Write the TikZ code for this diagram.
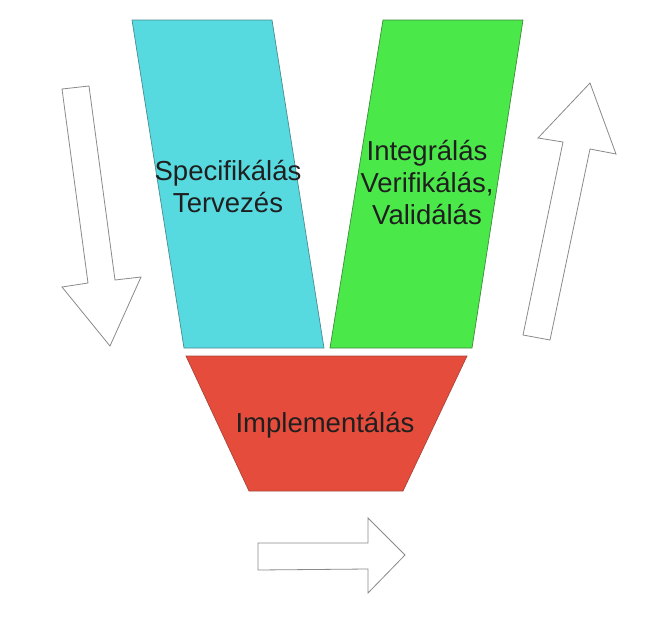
\documentclass[tikz,border=0pt]{standalone}
\usepackage{fontspec}
\setmainfont{Liberation Sans}
\definecolor{cyanfill}{HTML}{57D9E0}
\definecolor{cyanline}{HTML}{4A8C90}
\definecolor{greenfill}{HTML}{4BE84A}
\definecolor{greenline}{HTML}{3C8C3C}
\definecolor{redfill}{HTML}{E64C3C}
\definecolor{redline}{HTML}{A8463A}
\definecolor{arrowline}{HTML}{8A8A8A}
\tikzset{
  phase/.style={line width=0.7pt},
  bigarrow/.style={draw=arrowline, fill=white, line width=0.8pt, line join=miter},
  lbl/.style={font=\fontsize{27.5}{32}\selectfont, align=center, text=black!88, inner sep=0pt}
}
\begin{document}
\begin{tikzpicture}[x=1pt,y=-1pt]
\useasboundingbox (0,0) rectangle (664,624);
% phases
\filldraw[phase, fill=cyanfill, draw=cyanline] (132,20) -- (272,20) -- (324,348) -- (184,348) -- cycle;
\filldraw[phase, fill=greenfill, draw=greenline] (383,20) -- (523,20) -- (472,348) -- (330,348) -- cycle;
\filldraw[phase, fill=redfill, draw=redline] (186,356) -- (467,356) -- (403,491) -- (249,491) -- cycle;
% labels
\node[lbl] (spec) at (228,187) {Specifikálás\\Tervezés};
\node[lbl] (integ) at (427,183) {Integrálás\\Verifikálás,\\Validálás};
\node[lbl] (impl) at (325,425) {Implementálás};
% arrows
\draw[bigarrow] (62,89) -- (89,86) -- (115,280) -- (141,277) -- (110,346) -- (62,287) -- (88,283) -- cycle;
\draw[bigarrow] (590,83) -- (616,154) -- (590,149) -- (550,340) -- (523,335) -- (563,142) -- (538,138) -- cycle;
\draw[bigarrow] (258,543) -- (368,543) -- (368,518) -- (405,555) -- (368,593) -- (368,569) -- (258,570) -- cycle;
\end{tikzpicture}
\end{document}
